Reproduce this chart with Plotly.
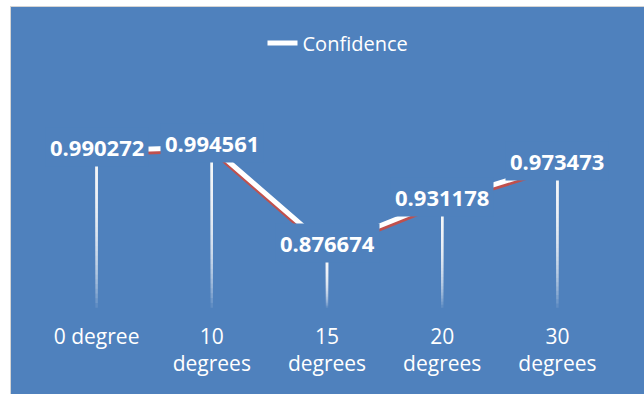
import plotly.graph_objects as go

# ---- data ----
categories = ["0 degree", "10 degrees", "15 degrees", "20 degrees", "30 degrees"]
tick_labels = ["0 degree", "10<br>degrees", "15<br>degrees", "20<br>degrees", "30<br>degrees"]
confidence = [0.990272, 0.994561, 0.876674, 0.931178, 0.973473]
value_labels = ["0.990272", "0.994561", "0.876674", "0.931178", "0.973473"]
series_name = "Confidence"

# ---- style ----
BLUE = "#4F81BD"
RED = "#C0504D"
W, H = 644, 394
ML, MR, MT, MB = 39, 29, 100, 82
Y_RANGE = [0.80, 1.05]
DEPTH = 0.0177      # 3-D depth gap between ribbon and drop line tops (value units)
FLOOR = 0.805       # where the drop lines fade out
RED_OFF = 0.004     # thickness of the ribbon's front face (value units)
N_FADE = 30
FADE_ALPHA = 0.1

PW = W - ML - MR
PH = H - MT - MB


def px2x(px):
    return (px - ML) / PW


def py2y(py):
    return (H - MB - py) / PH


fig = go.Figure()

# drop lines: stacked translucent layers of decreasing length -> smooth fade
for k in range(1, N_FADE + 1):
    t = k / N_FADE
    xs, ys = [], []
    for c, v in zip(categories, confidence):
        top = v - DEPTH
        xs += [c, c, None]
        ys += [top, top - (top - FLOOR) * t, None]
    fig.add_trace(go.Scatter(
        x=xs, y=ys, mode="lines", showlegend=False, hoverinfo="skip",
        line=dict(color=f"rgba(255,255,255,{FADE_ALPHA})", width=2.5),
    ))

# ribbon front face (red)
fig.add_trace(go.Scatter(
    x=categories, y=[v - RED_OFF for v in confidence], mode="lines",
    showlegend=False, hoverinfo="skip",
    line=dict(color=RED, width=4),
))
# ribbon top face (white) - the series
fig.add_trace(go.Scatter(
    x=categories, y=confidence, mode="lines", name=series_name,
    line=dict(color="white", width=5),
))

# data labels with a background matching the chart area
for c, v, lab in zip(categories, confidence, value_labels):
    fig.add_annotation(
        x=c, y=v, text=f"<b>{lab}</b>", showarrow=False, yshift=4,
        font=dict(family="Open Sans", size=22, color="white"),
        bgcolor=BLUE, borderpad=4,
    )

# chart frame: white strip at left/top with thin grey border
shapes = [
    dict(type="rect", xref="paper", yref="paper",
         x0=px2x(-2), x1=px2x(10), y0=py2y(H + 2), y1=py2y(-2),
         fillcolor="white", line=dict(width=0), layer="above"),
    dict(type="rect", xref="paper", yref="paper",
         x0=px2x(-2), x1=px2x(W + 2), y0=py2y(6), y1=py2y(-2),
         fillcolor="white", line=dict(width=0), layer="above"),
    dict(type="line", xref="paper", yref="paper",
         x0=px2x(10.5), x1=px2x(10.5), y0=py2y(6), y1=py2y(H + 2),
         line=dict(color="#D4D4D4", width=1), layer="above"),
    dict(type="line", xref="paper", yref="paper",
         x0=px2x(10), x1=px2x(W + 2), y0=py2y(6.5), y1=py2y(6.5),
         line=dict(color="#D4D4D4", width=1), layer="above"),
]

fig.update_layout(
    width=W, height=H,
    margin=dict(l=ML, r=MR, t=MT, b=MB, pad=0),
    paper_bgcolor=BLUE, plot_bgcolor=BLUE,
    shapes=shapes,
    showlegend=True,
    legend=dict(
        orientation="h", x=px2x(338), xanchor="center",
        y=py2y(43), yanchor="middle",
        bgcolor="rgba(0,0,0,0)",
        font=dict(family="Open Sans", size=20, color="white"),
    ),
    xaxis=dict(
        type="category", categoryorder="array", categoryarray=categories,
        range=[-0.5, len(categories) - 0.5],
        tickmode="array", tickvals=categories, ticktext=tick_labels,
        showgrid=False, zeroline=False, showline=False, ticks="",
        tickfont=dict(family="Open Sans", size=21, color="white"),
        ticklabelstandoff=10,
    ),
    yaxis=dict(range=Y_RANGE, visible=False, showgrid=False, zeroline=False),
)

fig.write_html(
    "out.html",
    config={"displayModeBar": False},
    post_script="document.body.style.margin='0';document.body.style.overflow='hidden';",
)
